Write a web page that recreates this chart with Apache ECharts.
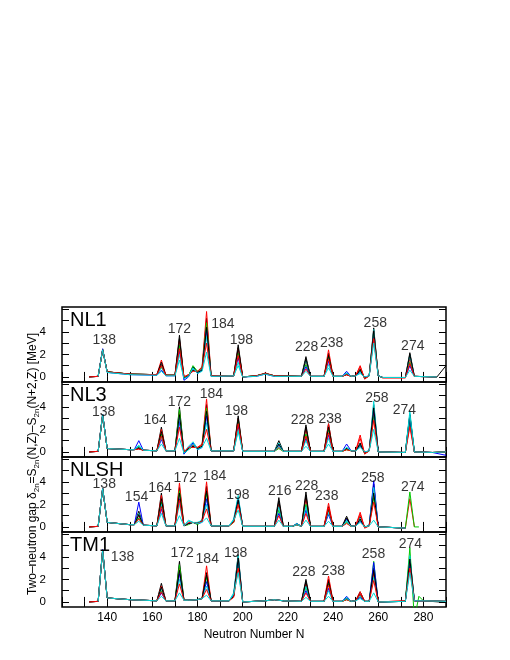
<!DOCTYPE html>
<html>
<head>
<meta charset="utf-8">
<script src="https://cdn.jsdelivr.net/npm/echarts@6/dist/echarts.min.js"></script>
<style>
  html, body { margin: 0; padding: 0; background: #fff; }
  #main { width: 510px; height: 660px; }
</style>
</head>
<body>
<div id="main"></div>
<script>
// neutron numbers where each panel has a point, one row per curve (different Z)
const nl1N = [132,136,138,140,150,162,164,166,170,172,174,176,178,180,182,184,186,196,198,200,206,210,214,226,228,230,236,238,240,244,246,248,250,252,254,256,258,260,262,272,274,276,286,290]
const nl1 = [
  [0,0.05,2.4,0.45,0.25,0.2,1.1,0.15,0.15,3.7,-0.1,0.1,0.9,0.4,0.7,5.2,0.1,0.1,2.85,0,0.1,0.3,0.1,0.05,1.8,0.05,0.05,2.1,0.05,0.05,0.3,0.05,0.1,0.7,-0.1,0.1,4.35,0.1,-0.05,-0.05,2.15,0.05,0,1.0],
  [0,0.05,2.4,0.45,0.25,0.2,1.5,0.15,0.15,3.2,0,0.2,0.6,0.5,0.9,5.8,0.1,0.1,2.5,0,0.1,0.35,0.1,0.05,1.4,0.05,0.05,2.4,0.05,0.05,0.2,0.05,0.1,1.0,-0.2,0.1,4.0,0.1,-0.1,-0.1,1.6,0.05,0,null],
  [null,0.05,2.45,0.45,0.25,0.2,0.9,0.15,0.15,2.8,-0.05,0.1,1.0,0.5,0.8,4.8,0.1,0.1,2.1,0,0.1,0.3,0.1,0.05,1.1,0.05,0.05,1.8,0.05,0.05,0.3,0.05,0.1,0.6,-0.1,0.1,3.8,0.1,-0.05,-0.05,1.3,0.05,0,null],
  [null,0.05,2.5,0.4,0.2,0.15,0.6,0.1,0.1,2.3,-0.3,0,0.8,0.3,0.6,4.2,0.05,0.1,1.7,0,0.05,0.25,0.05,0.05,0.9,0.05,0.05,1.4,0.05,0.05,0.5,0.05,0.1,0.4,0,0.1,3.5,0.1,-0.05,-0.05,1.0,0.05,0,null],
  [0,0.05,2.4,0.4,0.25,0.2,0.8,0.15,0.15,2.0,-0.1,0.1,0.7,0.4,0.7,3.6,0.1,0.1,1.3,0,0.1,0.3,0.1,0.05,1.5,0.05,0.05,1.1,0.05,0.05,0.3,0.05,0.1,0.5,-0.1,0.1,4.2,0.1,-0.05,-0.05,1.9,0.05,0,null],
  [0,0.05,2.4,0.45,0.25,0.2,1.3,0.15,0.15,3.4,-0.1,0.1,0.6,0.4,0.6,4.4,0.1,0.1,2.6,0,0.1,0.3,0.1,0.05,1.6,0.05,0.05,1.9,0.05,0.05,0.2,0.05,0.1,0.6,-0.1,0.1,4.1,0.1,-0.05,-0.05,2.0,0.05,0,null],
  [0,0.05,2.4,0.45,0.25,0.2,1.0,0.15,0.15,2.5,0,0.2,0.5,0.5,0.8,3.0,0.1,0.1,1.9,0,0.1,0.3,0.1,0.05,0.7,0.05,0.05,1.6,0.05,0.05,0.2,0.05,0.1,0.9,-0.15,0.1,3.4,0.1,-0.05,-0.05,1.2,0.05,0,null],
  [null,0.05,2.4,0.4,0.2,0.15,0.5,0.1,0.1,1.5,-0.15,0.05,0.8,0.3,0.5,2.2,0.05,0.1,1.0,0,0.05,0.25,0.05,0.05,0.5,0.05,0.05,0.8,0.05,0.05,0.35,0.05,0.1,0.3,0,0.1,3.0,0.1,-0.05,-0.05,0.6,0.05,0,null]
]

const nl3N = [132,136,138,140,150,152,154,156,162,164,166,170,172,174,176,178,180,182,184,186,196,198,200,214,216,218,226,228,230,236,238,240,244,246,248,250,252,254,256,258,260,272,274,276,284,290]
const nl3 = [
  [0,0.05,3.3,0.3,0.2,0.2,0.4,0.15,0.1,2.2,0.1,0.1,4.0,-0.1,0.3,0.7,0.3,0.5,4.2,0.1,0.1,3.2,0.05,0.05,1.0,0.05,0.05,2.4,0.05,0.05,2.5,0.05,0.05,0.3,0.1,0.1,0.8,-0.1,0.1,4.2,0,-0.05,3.2,0,-0.05,0],
  [0,0.05,3.3,0.3,0.2,0.2,0.3,0.15,0.1,2.0,0.1,0.1,3.5,0,0.4,0.6,0.4,0.7,4.7,0.1,0.1,2.9,0.05,0.05,0.5,0.05,0.05,2.0,0.05,0.05,2.5,0.05,0.05,0.2,0.1,0.1,1.5,-0.2,0.1,3.6,0,-0.05,2.5,0,-0.05,0],
  [null,0.05,3.3,0.3,0.2,0.2,0.5,0.15,0.1,1.6,0.1,0.1,3.8,-0.15,0.2,0.5,0.3,0.6,3.9,0.1,0.1,2.7,0.05,0.05,0.3,0.05,0.05,1.6,0.05,0.05,2.0,0.05,0.05,0.2,0.1,0.1,0.6,-0.1,0.1,3.2,0,-0.05,2.8,0,-0.05,0],
  [null,0.05,3.35,0.3,0.2,0.2,1.0,0.15,0.1,1.1,0.1,0.1,2.7,-0.2,0.3,0.8,0.2,0.4,3.2,0.1,0.1,2.3,0.05,0.05,0.6,0.05,0.05,1.2,0.05,0.05,1.5,0.05,0.05,0.7,0.1,0.1,0.5,0,0.1,3.8,0,-0.05,3.0,0,-0.05,-0.3],
  [0,0.05,3.3,0.3,0.2,0.2,0.6,0.15,0.1,1.3,0.1,0.1,3.1,-0.1,0.5,0.9,0.3,0.5,2.6,0.1,0.1,2.0,0.05,0.05,0.8,0.05,0.05,1.0,0.05,0.05,1.2,0.05,0.05,0.4,0.1,0.1,0.7,-0.1,0.1,4.5,0,-0.05,3.6,0,-0.05,0],
  [0,0.05,3.3,0.3,0.2,0.2,0.3,0.15,0.1,1.8,0.1,0.1,3.3,-0.05,0.3,0.5,0.3,0.5,3.6,0.1,0.1,3.0,0.05,0.05,0.7,0.05,0.05,2.2,0.05,0.05,2.2,0.05,0.05,0.3,0.1,0.1,0.7,-0.1,0.1,3.9,0,-0.05,3.3,0,-0.05,0],
  [0,0.05,3.3,0.3,0.2,0.2,0.25,0.15,0.1,1.4,0.1,0.1,2.2,0,0.4,0.4,0.4,0.6,2.0,0.1,0.1,2.5,0.05,0.05,0.4,0.05,0.05,1.4,0.05,0.05,1.7,0.05,0.05,0.2,0.1,0.1,1.2,-0.15,0.1,2.8,0,-0.05,2.2,0,-0.05,0],
  [null,0.05,3.3,0.3,0.2,0.2,0.5,0.15,0.1,0.7,0.1,0.1,1.2,-0.1,0.2,0.7,0.2,0.4,1.2,0.1,0.1,1.8,0.05,0.05,0.5,0.05,0.05,0.5,0.05,0.05,0.7,0.05,0.05,0.4,0.1,0.1,0.4,0,0.1,2.0,0,-0.05,3.4,0,-0.05,0]
]

const nlshN = [132,136,138,140,150,152,154,156,162,164,166,170,172,174,176,178,180,182,184,186,194,196,198,200,214,216,218,222,224,226,228,230,236,238,240,244,246,248,250,252,254,256,258,260,272,274,276,278]
const nlsh = [
  [0,0.05,3.4,0.4,0.2,0.2,1.4,0.15,0.1,3.0,0.1,0.1,3.5,0.1,0.3,0.4,0.3,0.5,3.6,0.1,0.1,0.5,2.6,0.05,0.05,2.6,0.05,0.05,0.3,0.05,3.1,0.05,0.05,1.8,0.05,0.05,0.95,0.05,0.1,0.9,0,0.1,3.8,0,-0.1,null,null,null],
  [0,0.05,3.4,0.4,0.2,0.2,1.0,0.15,0.1,2.8,0.1,0.1,3.9,0.1,0.3,0.4,0.3,0.6,4.0,0.1,0.1,0.4,2.3,0.05,0.05,2.0,0.05,0.05,0.2,0.05,2.5,0.05,0.05,2.1,0.05,0.05,0.5,0.05,0.1,1.3,-0.1,0.1,3.2,0,-0.1,2.5,0,null],
  [null,0.05,3.4,0.4,0.2,0.2,0.8,0.15,0.1,2.2,0.1,0.1,3.2,0.1,0.2,0.4,0.2,0.5,3.0,0.1,0.1,0.4,2.2,0.05,0.05,1.5,0.05,0.05,0.2,0.05,2.0,0.05,0.05,1.5,0.05,0.05,0.4,0.05,0.1,0.6,0,0.1,2.6,0,-0.1,3.1,0,0],
  [null,0.05,3.45,0.4,0.2,0.2,2.2,0.15,0.1,1.6,0.1,0.1,2.5,0.1,0.3,0.4,0.3,0.4,2.5,0.1,0.1,0.6,2.5,0.05,0.05,1.2,0.05,0.05,0.3,0.05,1.5,0.05,0.05,1.1,0.05,0.05,0.7,0.05,0.1,0.5,0,0.1,4.1,0,-0.1,null,null,null],
  [0,0.05,3.4,0.4,0.2,0.2,1.2,0.15,0.1,2.0,0.1,0.1,2.0,0.1,0.6,0.4,0.4,0.6,2.0,0.1,0.1,0.7,2.8,0.05,0.05,1.8,0.05,0.05,0.3,0.05,1.8,0.05,0.05,1.3,0.05,0.05,0.6,0.05,0.1,0.8,0,0.1,3.5,0,-0.1,null,null,null],
  [0,0.05,3.4,0.4,0.2,0.2,1.1,0.15,0.1,2.5,0.1,0.1,3.0,0.1,0.3,0.4,0.3,0.5,3.2,0.1,0.1,0.5,2.4,0.05,0.05,2.3,0.05,0.05,0.2,0.05,2.8,0.05,0.05,1.6,0.05,0.05,0.8,0.05,0.1,0.7,0,0.1,3.0,0,-0.1,null,null,null],
  [0,0.05,3.4,0.4,0.2,0.2,0.7,0.15,0.1,1.8,0.1,0.1,2.4,0.1,0.4,0.4,0.3,0.5,1.6,0.1,0.1,0.4,2.0,0.05,0.05,1.0,0.05,0.05,0.2,0.05,1.2,0.05,0.05,1.7,0.05,0.05,0.3,0.05,0.1,1.1,-0.1,0.1,2.2,0,-0.1,null,null,null],
  [null,0.05,3.4,0.4,0.2,0.2,0.5,0.15,0.1,1.2,0.1,0.1,1.0,0.1,0.5,0.4,0.3,0.4,0.8,0.1,0.1,0.6,1.5,0.05,0.05,0.6,0.05,0.05,0.2,0.05,0.6,0.05,0.05,0.5,0.05,0.05,0.5,0.05,0.1,0.4,0,0.1,0.6,0,-0.1,null,null,null]
]

const tm1N = [132,136,138,140,150,162,164,166,170,172,174,176,180,182,184,186,194,196,198,200,210,214,218,226,228,230,236,238,240,244,246,248,250,252,254,256,258,260,272,274,276,278,280,290]
const tm1 = [
  [0,0.05,4.6,0.35,0.2,0.1,1.65,0.1,0.1,3.6,0.15,0.15,0.2,0.3,2.6,0.1,0.1,0.6,4.2,0,0.1,0.2,0.1,0.05,2.0,0.05,0.05,2.0,0.05,0.05,0.3,0.05,0.1,0.9,0.05,0.05,3.0,0,0.05,4.0,0.1,0.1,0.1,-0.05],
  [0,0.05,4.6,0.35,0.2,0.1,1.4,0.1,0.1,3.0,0.15,0.15,0.2,0.3,3.2,0.1,0.1,0.5,3.6,0,0.1,0.2,0.1,0.05,1.6,0.05,0.05,2.3,0.05,0.05,0.2,0.05,0.1,0.9,0.05,0.05,2.6,0,0.1,3.5,0.1,0.1,0.1,0.05],
  [null,0.05,4.6,0.35,0.2,0.1,1.0,0.1,0.1,3.3,0.15,0.15,0.2,0.3,2.2,0.1,0.1,0.5,3.4,0,0.1,0.2,0.1,0.05,1.3,0.05,0.05,1.6,0.05,0.05,0.2,0.05,0.1,0.5,0.05,0.05,3.6,0,0.05,4.8,-1.5,0.5,0.1,0.05],
  [null,0.05,4.65,0.35,0.2,0.1,0.8,0.1,0.1,2.5,0.15,0.15,0.2,0.3,1.8,0.1,0.1,0.6,3.8,0,0.1,0.2,0.1,0.05,1.0,0.05,0.05,1.2,0.05,0.05,0.5,0.05,0.1,0.4,0.05,0.05,3.5,0,0.05,3.2,0.1,0.1,0.1,0.05],
  [0,0.05,4.6,0.35,0.2,0.1,1.2,0.1,0.1,2.0,0.15,0.15,0.2,0.3,1.4,0.1,0.1,0.8,4.1,0,0.1,0.2,0.1,0.05,1.4,0.05,0.05,1.0,0.05,0.05,0.4,0.05,0.1,0.6,0.05,0.05,2.2,0,0.05,4.1,0.1,0.1,0.1,0.05],
  [0,0.05,4.6,0.35,0.2,0.1,1.3,0.1,0.1,2.8,0.15,0.15,0.2,0.3,2.4,0.1,0.1,0.5,3.9,0,0.1,0.2,0.1,0.05,1.8,0.05,0.05,1.8,0.05,0.05,0.3,0.05,0.1,0.7,0.05,0.05,2.8,0,0.05,3.8,0.1,0.1,0.1,0.05],
  [0,0.05,4.6,0.35,0.2,0.1,0.9,0.1,0.1,1.6,0.15,0.15,0.2,0.3,1.1,0.1,0.1,0.4,3.0,0,0.1,0.2,0.1,0.05,0.8,0.05,0.05,1.5,0.05,0.05,0.2,0.05,0.1,0.7,0.05,0.05,1.9,0,0.1,3.0,0.1,0.1,0.1,0.05],
  [null,0.05,4.6,0.35,0.2,0.1,0.5,0.1,0.1,0.8,0.15,0.15,0.2,0.3,0.6,0.1,0.1,0.7,2.6,0,0.1,0.2,0.1,0.05,0.4,0.05,0.05,0.5,0.05,0.05,0.3,0.05,0.1,0.3,0.05,0.05,0.8,0,0.05,2.6,0.1,0.1,0.1,0.05]
]

// magic-number annotations: [N, gap, text]
const nl1Labels = [[138.7,3.3,'138'],[172,4.2,'172'],[191.2,4.7,'184'],[199.4,3.3,'198'],[228.3,2.6,'228'],[239.4,3.0,'238'],[258.7,4.8,'258'],[275.3,2.75,'274']]
const nl3Labels = [[138.4,3.5,'138'],[161.2,2.8,'164'],[172,4.4,'172'],[186.1,5.1,'184'],[197.2,3.6,'198'],[226.4,2.8,'228'],[238.7,2.9,'238'],[259.4,4.75,'258'],[271.6,3.7,'274']]
const nlshLabels = [[138.7,3.8,'138'],[153,2.6,'154'],[163.4,3.4,'164'],[174.5,4.3,'172'],[187.6,4.5,'184'],[197.9,2.8,'198'],[216.4,3.2,'216'],[228.3,3.6,'228'],[237.2,2.7,'238'],[257.6,4.3,'258'],[275.3,3.5,'274']]
const tm1Labels = [[146.8,4.0,'138'],[173.2,4.3,'172'],[184.3,3.8,'184'],[196.9,4.35,'198'],[227.1,2.6,'228'],[240.1,2.75,'238'],[257.9,4.2,'258'],[274.2,5.1,'274']]

const panelNames = ['NL1', 'NL3', 'NLSH', 'TM1']
const xTickLabels = [140, 160, 180, 200, 220, 240, 260, 280]
const yTickLabels = [0, 2, 4]
const yTicks = [0, 1, 2, 3, 4, 5, 6]

const panels = [
  { n: nl1N, rows: nl1, labels: nl1Labels },
  { n: nl3N, rows: nl3, labels: nl3Labels },
  { n: nlshN, rows: nlsh, labels: nlshLabels },
  { n: tm1N, rows: tm1, labels: tm1Labels }
]

const colors = ['#000000', '#ff0000', '#00c800', '#0000ff', '#00d8d8', '#000000', '#ff0000', '#00d8d8']
const font = 'Liberation Sans, Arial, Helvetica, sans-serif'
const top0 = 307, panelH = 75

let grids = [], xAxes = [], yAxes = [], series = [], graphics = []

panels.forEach((p, k) => {
  const last = k === panels.length - 1
  grids.push({
    left: 62, width: 384, top: top0 + k * panelH, height: panelH,
    show: true, borderColor: '#000', borderWidth: 1.5, backgroundColor: 'transparent'
  })
  xAxes.push({
    gridIndex: k, type: 'value', min: 120, max: 290, interval: 10, position: 'bottom',
    axisLine: { show: false },
    axisTick: { inside: true, length: 5, lineStyle: { color: '#000' } },
    axisLabel: { show: last, customValues: xTickLabels, color: '#000', fontSize: 12, fontFamily: font, margin: 5 },
    splitLine: { show: false },
    name: last ? 'Neutron Number N' : '', nameLocation: 'middle', nameGap: 22,
    nameTextStyle: { color: '#000', fontSize: 12, fontFamily: font }
  })
  xAxes.push({
    gridIndex: k, type: 'value', min: 120, max: 290, interval: 10, position: 'top',
    axisLine: { show: false },
    axisTick: { inside: true, length: 5, lineStyle: { color: '#000' } },
    axisLabel: { show: false }, splitLine: { show: false }
  })
  yAxes.push({
    gridIndex: k, type: 'value', min: -0.45, max: 6.2, position: 'left',
    axisLine: { show: false },
    axisTick: { inside: true, length: 7, customValues: yTicks, lineStyle: { color: '#000' } },
    axisLabel: { customValues: yTickLabels, color: '#000', fontSize: 11.5, fontFamily: font, margin: 16 },
    splitLine: { show: false }
  })
  yAxes.push({
    gridIndex: k, type: 'value', min: -0.45, max: 6.2, position: 'right',
    axisLine: { show: false },
    axisTick: { inside: true, length: 7, customValues: yTicks, lineStyle: { color: '#000' } },
    axisLabel: { show: false }, splitLine: { show: false }
  })

  p.rows.forEach((row, j) => {
    series.push({
      type: 'line', xAxisIndex: k * 2, yAxisIndex: k * 2,
      showSymbol: false, symbol: 'none', silent: true,
      lineStyle: { width: 1, color: colors[j] },
      data: p.n.map((n, i) => [n, row[i] == null ? '-' : row[i]])
    })
  })

  series.push({
    type: 'scatter', xAxisIndex: k * 2, yAxisIndex: k * 2,
    symbolSize: 0, silent: true, z: 10,
    data: p.labels,
    label: {
      show: true, position: 'inside', formatter: d => d.data[2],
      color: '#000', fontSize: 14, fontFamily: font
    }
  })

  graphics.push({
    type: 'text', left: 70, top: top0 + k * panelH + 3, z: 20,
    style: { text: panelNames[k], fill: '#000', fontSize: 20, fontFamily: font }
  })
})

graphics.push({
  type: 'text', x: 33, y: 464, rotation: Math.PI / 2, z: 20,
  style: {
    text: 'Two\u2013neutron gap δ{s|2n}=S{s|2n}(N,Z)\u2013S{s|2n}(N+2,Z) [MeV]',
    fill: '#000', fontSize: 12, fontFamily: font, align: 'center', verticalAlign: 'middle',
    rich: {
      s: { fontSize: 8, fontFamily: font, fill: '#000', verticalAlign: 'bottom', lineHeight: 16 }
    }
  }
})

let options = {
  animation: false,
  backgroundColor: '#fff',
  grid: grids,
  xAxis: xAxes,
  yAxis: yAxes,
  series: series,
  graphic: graphics
}

let myChart = echarts.init(document.getElementById('main'))
myChart.setOption(options)
</script>
</body>
</html>
